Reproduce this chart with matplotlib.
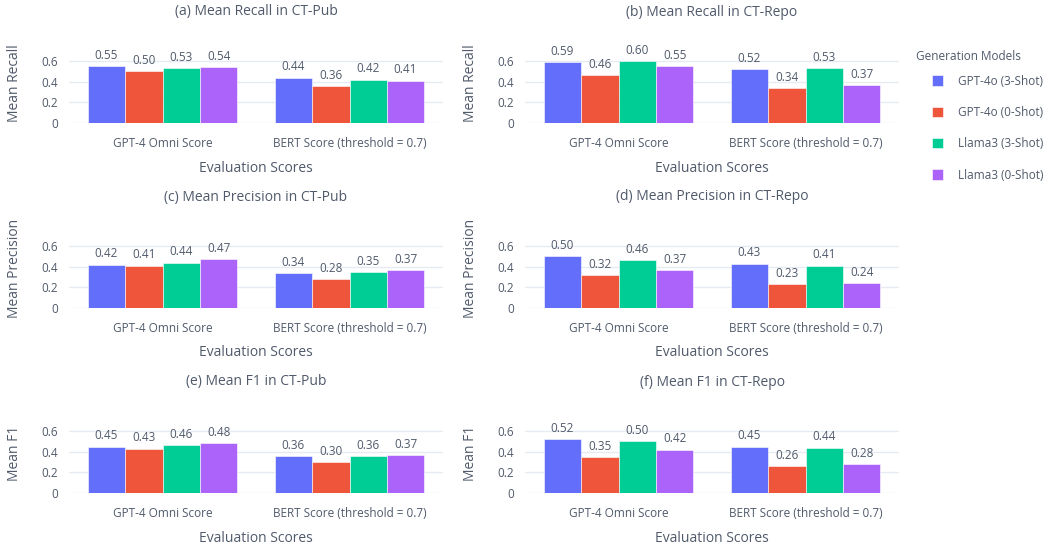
import matplotlib.pyplot as plt
import numpy as np

plt.rcParams['font.family'] = ['Open Sans', 'DejaVu Sans']

W, H = 1048, 550

score_labels = ['GPT-4 Omni Score', 'BERT Score (threshold = 0.7)']
models = ['GPT-4o (3-Shot)', 'GPT-4o (0-Shot)', 'Llama3 (3-Shot)', 'Llama3 (0-Shot)']
colors = ['#636EFA', '#EF553B', '#00CC96', '#AB63FA']

# values per model: [GPT-4 Omni Score, BERT Score]
recall_pub = [[0.55, 0.44], [0.50, 0.36], [0.53, 0.42], [0.54, 0.41]]
recall_repo = [[0.59, 0.52], [0.46, 0.34], [0.60, 0.53], [0.55, 0.37]]
precision_pub = [[0.42, 0.34], [0.41, 0.28], [0.44, 0.35], [0.47, 0.37]]
precision_repo = [[0.50, 0.43], [0.32, 0.23], [0.46, 0.41], [0.37, 0.24]]
f1_pub = [[0.45, 0.36], [0.43, 0.30], [0.46, 0.36], [0.48, 0.37]]
f1_repo = [[0.52, 0.45], [0.35, 0.26], [0.50, 0.44], [0.42, 0.28]]

panels = [
    ('(a) Mean Recall in CT-Pub', 'Mean Recall', recall_pub),
    ('(b) Mean Recall in CT-Repo', 'Mean Recall', recall_repo),
    ('(c) Mean Precision in CT-Pub', 'Mean Precision', precision_pub),
    ('(d) Mean Precision in CT-Repo', 'Mean Precision', precision_repo),
    ('(e) Mean F1 in CT-Pub', 'Mean F1', f1_pub),
    ('(f) Mean F1 in CT-Repo', 'Mean F1', f1_repo),
]

txt = '#505a6b'
grid = '#e6ebf2'
ymax = 0.77

col_x = [69, 525]      # left edge of plot area (px)
plot_w = 374
row_zero = [123, 308, 493]  # pixel y of value 0
plot_h = ymax * 103.3

fig = plt.figure(figsize=(W / 100, H / 100), dpi=100)


def px(x, y):
    return x / W, 1 - y / H


for i, (title, ylab, vals) in enumerate(panels):
    r, c = divmod(i, 2)
    left = col_x[c]
    bottom = row_zero[r]
    ax = fig.add_axes([left / W, 1 - bottom / H, plot_w / W, plot_h / H])
    x = np.arange(len(score_labels))
    bw = 0.8 / len(models)
    for m, (name, col) in enumerate(zip(models, colors)):
        pos = x - 0.4 + bw * (m + 0.5)
        bars = ax.bar(pos, vals[m], width=bw, color=col, edgecolor='white', linewidth=0.4,
                      label=name, zorder=3)
        for b, v in zip(bars, vals[m]):
            ax.annotate(f'{v:.2f}', (b.get_x() + b.get_width() / 2, v), xytext=(0, 3),
                        textcoords='offset points', ha='center', va='bottom',
                        fontsize=8.5, color=txt, annotation_clip=False)
    ax.set_xlim(-0.5, 1.5)
    ax.set_ylim(0, ymax)
    ax.set_yticks([0, 0.2, 0.4, 0.6])
    ax.set_yticklabels(['0', '0.2', '0.4', '0.6'])
    ax.set_xticks(x)
    ax.set_xticklabels(score_labels)
    ax.tick_params(axis='both', length=0, colors=txt, labelsize=8.5)
    ax.tick_params(axis='x', pad=10)
    ax.tick_params(axis='y', pad=8)
    for s in ax.spines.values():
        s.set_visible(False)
    ax.grid(axis='y', color=grid, linewidth=1, zorder=0)
    ax.set_facecolor('white')

    cx = left + plot_w / 2
    fig.text(*px(cx, bottom - 111), title, ha='center', va='center', fontsize=10, color=txt)
    fig.text(*px(cx, bottom + 45), 'Evaluation Scores', ha='center', va='center',
             fontsize=10, color=txt)
    fig.text(*px(left - 54, bottom - plot_h / 2), ylab, ha='center', va='center',
             rotation=90, fontsize=10, color=txt)

# legend
fig.text(*px(916, 57), 'Generation Models', ha='left', va='center', fontsize=8.5, color=txt)
ax0 = fig.axes[0]
handles, labels = ax0.get_legend_handles_labels()
leg = fig.legend(handles, labels, loc='upper left', bbox_to_anchor=px(921, 64),
                 frameon=False, fontsize=8.5, labelcolor=txt, handlelength=1.0,
                 handleheight=1.0, handletextpad=1.2, labelspacing=1.55)

fig.savefig('out.png', dpi=100, facecolor='white')
